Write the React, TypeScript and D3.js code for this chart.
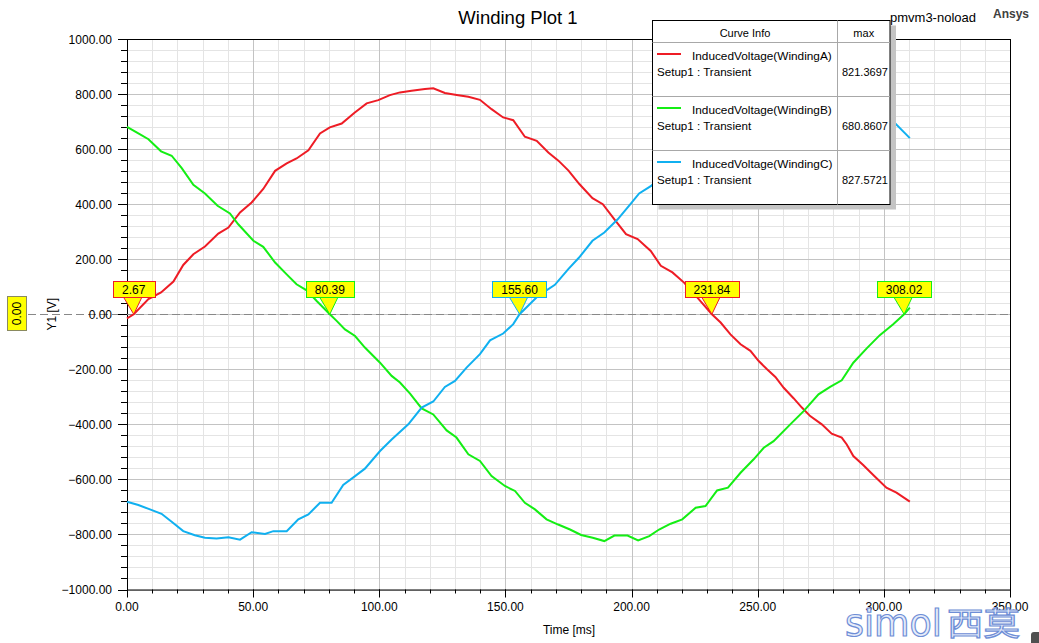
import React from "react";
import * as d3 from "d3";

// ---------- data ----------
const windingA: [number, number][] = [
  [0, -15], [2.67, 0], [8.5, 55], [13.5, 79], [18.4, 119], [22.3, 179], [26.3, 218], [30.9, 246],
  [36.2, 293], [40.2, 315], [44.8, 370], [49.4, 406], [54, 455], [58.7, 521], [63.3, 548], [67.2, 566],
  [71.9, 596], [76.5, 657], [80.4, 679], [85.1, 693], [90.3, 733], [95, 766], [99.6, 778], [104.2, 796],
  [108.2, 806], [112.8, 812], [118.1, 818], [121.4, 821], [126, 804], [131.3, 796], [135.3, 790],
  [139.9, 779], [144.5, 745], [149.1, 715], [153.1, 705], [157.7, 645], [162.4, 630], [167, 588],
  [171, 558], [175, 522], [179.3, 473], [184.5, 422], [188.6, 400], [193.2, 345], [197.8, 291],
  [202.4, 273], [207.6, 230], [211.6, 176], [216.2, 152], [220.8, 115], [226, 61], [231.84, 0],
  [235.3, -30], [239.2, -73], [243.2, -109], [247.1, -133], [250.4, -170], [253.7, -200], [257, -228],
  [260.3, -267], [264.2, -305], [267.5, -339], [270.8, -370], [275.4, -400], [279.3, -434], [283.3, -448],
  [285.3, -473], [287.9, -515], [291.8, -548], [295.8, -584], [301, -630], [305, -648], [310.3, -681],
];

const windingB: [number, number][] = [
  [0, 681], [4.5, 657], [8.5, 636], [13.5, 592], [17.7, 576], [21.7, 531], [26.3, 470], [30.9, 439],
  [35.9, 394], [40.8, 366], [44.1, 327], [50.1, 267], [54, 245], [58.7, 188], [63.3, 145], [67.2, 109],
  [71.2, 87], [75.2, 48], [80.39, 0], [83.1, -24], [86.4, -55], [90.4, -79], [94.3, -121], [100.3, -176],
  [104.9, -224], [108.2, -248], [112.2, -288], [116.8, -342], [121.4, -364], [126.7, -422], [130.6, -448],
  [135.3, -509], [139.9, -533], [144.5, -588], [149.8, -624], [153.8, -642], [157.7, -685], [161.7, -709],
  [166.3, -745], [170.9, -764], [175.6, -782], [180, -802], [184.6, -812], [189.2, -824], [193.2, -804],
  [198.4, -804], [202.6, -822], [207, -806], [210.9, -782], [215.5, -761], [220.1, -745], [225.4, -703],
  [229.3, -697], [233.9, -640], [238.2, -630], [243.2, -576], [248.4, -527], [252.4, -485], [256.3, -461],
  [262.9, -400], [268.2, -352], [274.1, -291], [278.7, -264], [283.3, -240], [287.9, -176], [293.2, -124],
  [298.4, -76], [303.7, -36], [308.02, 0], [310.3, 24],
];

const windingC: [number, number][] = [
  [0, -681], [4.5, -693], [9.1, -709], [13.7, -725], [17.7, -754], [22.3, -788], [26.9, -803], [30.9, -812],
  [35.5, -815], [40.2, -810], [44.8, -819], [49.4, -792], [54.7, -798], [58, -788], [63.3, -788],
  [67.9, -745], [71.9, -727], [76.5, -685], [81.1, -685], [85.7, -620], [90.4, -588], [94.3, -561],
  [100.3, -497], [104.9, -455], [111.5, -400], [116.8, -339], [121.4, -317], [126, -264], [130, -242],
  [134.6, -194], [139.9, -145], [143.9, -95], [149.1, -70], [153.1, -36], [155.6, 0], [163, 67],
  [169.6, 107], [175, 165], [179.2, 206], [184.5, 267], [189.2, 297], [194.5, 345], [199.7, 402],
  [203, 439], [207.9, 467], [215, 541], [225, 598], [235, 685], [245, 745], [255, 788], [265, 811],
  [273, 827], [285, 795], [295, 760], [302.4, 713], [310.3, 640],
];

const seriesNames = ["InducedVoltage(WindingA)", "InducedVoltage(WindingB)", "InducedVoltage(WindingC)"];
const seriesMax = ["821.3697", "680.8607", "827.5721"];
const seriesColors = ["#ee1c25", "#14ee14", "#10b0f0"];
const seriesData = [windingA, windingB, windingC];

const markerTimes = [2.67, 80.39, 155.6, 231.84, 308.02];
const markerSeries = [0, 1, 2, 0, 1];

const xMajorTicks = d3.range(0, 351, 50);
const xMinorTicks = d3.range(0, 351, 10);
const yMajorTicks = d3.range(-1000, 1001, 200);
const yMinorTicks = d3.range(-1000, 1001, 40);

const FONT = "Arial, 'Liberation Sans', sans-serif";

export default function App() {
  const W = 1039, H = 643;
  const x = d3.scaleLinear().domain([0, 350]).range([127, 1010]);
  const y = d3.scaleLinear().domain([-1000, 1000]).range([589.5, 39]);
  const fmt = d3.format(".2f");
  const line = d3.line<[number, number]>().x(d => x(d[0])).y(d => y(d[1]));
  const [x0, x1] = x.range();
  const [yb, yt] = y.range();
  const y0 = y(0);

  // legend geometry
  const L = { x: 652.5, y: 20.5, w: 237.5, h: 184, headH: 22, colX: 837.5, rowH: 54 };

  return (
    <svg width={W} height={H} style={{ position: "absolute", left: 0, top: 0, background: "#fff" }}
      fontFamily={FONT}>
      <rect x={0} y={0} width={W} height={H} fill="#fff" />
      {/* minor grid */}
      {xMinorTicks.map(t => (
        <line key={"xm" + t} x1={Math.round(x(t)) + 0.5} x2={Math.round(x(t)) + 0.5} y1={yt} y2={yb} stroke="#e4e4e4" />
      ))}
      {yMinorTicks.map(t => (
        <line key={"ym" + t} x1={x0} x2={x1} y1={Math.round(y(t)) + 0.5} y2={Math.round(y(t)) + 0.5} stroke="#e4e4e4" />
      ))}
      {/* major grid */}
      {xMajorTicks.map(t => (
        <line key={"xM" + t} x1={Math.round(x(t)) + 0.5} x2={Math.round(x(t)) + 0.5} y1={yt} y2={yb} stroke="#c3c3c3" />
      ))}
      {yMajorTicks.map(t => (
        <line key={"yM" + t} x1={x0} x2={x1} y1={Math.round(y(t)) + 0.5} y2={Math.round(y(t)) + 0.5} stroke="#c3c3c3" />
      ))}
      {/* frame */}
      <rect x={x0 + 0.5} y={yt + 0.5} width={x1 - x0} height={yb - yt} fill="none" stroke="#000" />
      {/* zero dashed line */}
      <line x1={28} x2={x1} y1={Math.round(y0) + 0.5} y2={Math.round(y0) + 0.5} stroke="#888" strokeDasharray="8,4" />
      {/* left ticks */}
      {yMinorTicks.map(t => (
        <line key={"ylt" + t} x1={x0 - 6} x2={x0} y1={Math.round(y(t)) + 0.5} y2={Math.round(y(t)) + 0.5} stroke="#000" />
      ))}
      {yMajorTicks.map(t => (
        <line key={"yLt" + t} x1={x0 - 9} x2={x0} y1={Math.round(y(t)) + 0.5} y2={Math.round(y(t)) + 0.5} stroke="#000" />
      ))}
      {yMajorTicks.map(t => (
        <text key={"yl" + t} x={112} y={y(t) + 4.5} textAnchor="end" fontSize={12} fill="#000">{fmt(t)}</text>
      ))}
      {/* bottom ticks */}
      {xMinorTicks.map(t => (
        <line key={"xlt" + t} x1={Math.round(x(t)) + 0.5} x2={Math.round(x(t)) + 0.5} y1={yb} y2={yb + 4} stroke="#000" />
      ))}
      {xMajorTicks.map(t => (
        <line key={"xLt" + t} x1={Math.round(x(t)) + 0.5} x2={Math.round(x(t)) + 0.5} y1={yb} y2={yb + 8} stroke="#000" />
      ))}
      {xMajorTicks.map(t => (
        <text key={"xl" + t} x={x(t)} y={611} textAnchor="middle" fontSize={12} fill="#000">{fmt(t)}</text>
      ))}
      {/* axis titles */}
      <text x={569} y={634} textAnchor="middle" fontSize={12}>Time [ms]</text>
      <text transform={`translate(56,${y0}) rotate(-90)`} textAnchor="middle" fontSize={12}>Y1 [V]</text>
      <text x={518} y={24} textAnchor="middle" fontSize={18.5}>Winding Plot 1</text>
      <text x={933} y={22} textAnchor="middle" fontSize={13}>pmvm3-noload</text>
      <text x={1011} y={18} textAnchor="middle" fontSize={12} fontWeight="bold" fill="#404040">Ansys</text>
      {/* y-value marker box */}
      <rect x={7.5} y={296.5} width={19} height={34} fill="#ffff00" stroke="#8a8a60" />
      <text transform={`translate(21,${313.5}) rotate(-90)`} textAnchor="middle" fontSize={12}>0.00</text>

      {/* curves */}
      {seriesData.map((d, i) => (
        <path key={"s" + i} d={line(d) || ""} fill="none" stroke={seriesColors[i]} strokeWidth={2} />
      ))}

      {/* markers */}
      {markerTimes.map((t, i) => {
        const cx = x(t);
        const label = fmt(t);
        const bw = label.length * 6.2 + 17;
        const c = seriesColors[markerSeries[i]];
        const top = 281.5, bh = 16;
        return (
          <g key={"m" + i}>
            <path d={`M${cx - 10},${top + bh} L${cx},${y0} L${cx + 8},${top + bh} Z`} fill="#ffff00" stroke="none" />
            <path d={`M${cx - 10},${top + bh} L${cx},${y0} L${cx + 8},${top + bh}`} fill="none" stroke={c} strokeWidth={1} />
            <rect x={Math.round(cx - bw / 2) + 0.5} y={top} width={Math.round(bw)} height={bh} fill="#ffff00" stroke={c} />
            <text x={cx} y={top + 12.5} textAnchor="middle" fontSize={12} fill="#000">{label}</text>
          </g>
        );
      })}

      {/* legend */}
      <rect x={L.x + 6} y={L.y + 5} width={L.w} height={L.h} fill="#c4c4c4" />
      <rect x={L.x} y={L.y} width={L.w} height={L.h} fill="#fff" stroke="#000" />
      <line x1={L.x} x2={L.x + L.w} y1={L.y + L.headH} y2={L.y + L.headH} stroke="#a8a8a8" />
      <line x1={L.colX} x2={L.colX} y1={L.y} y2={L.y + L.h} stroke="#a8a8a8" />
      <text x={(L.x + L.colX) / 2} y={L.y + 16} textAnchor="middle" fontSize={11}>Curve Info</text>
      <text x={(L.colX + L.x + L.w) / 2} y={L.y + 16} textAnchor="middle" fontSize={11}>max</text>
      {seriesNames.map((n, i) => {
        const ry = L.y + L.headH + i * L.rowH;
        return (
          <g key={"lg" + i}>
            {i > 0 && <line x1={L.x} x2={L.x + L.w} y1={ry} y2={ry} stroke="#a8a8a8" />}
            <line x1={657} x2={681} y1={ry + 11.5} y2={ry + 11.5} stroke={seriesColors[i]} strokeWidth={2} />
            <text x={692} y={ry + 17} fontSize={11.8}>{n}</text>
            <text x={657} y={ry + 33} fontSize={11.6}>Setup1 : Transient</text>
            <text x={842} y={ry + 33} fontSize={11}>{seriesMax[i]}</text>
          </g>
        );
      })}

      {/* watermark */}
      <text x={845} y={636} fontSize={38} textLength={97} lengthAdjust="spacingAndGlyphs"
        fill="#e6ecfa" stroke="#6e8ed6" strokeWidth={1.2} fontFamily="'DejaVu Sans', sans-serif">simol</text>
      <text x={947} y={635} fontSize={32} textLength={73} lengthAdjust="spacingAndGlyphs"
        fill="#e6ecfa" stroke="#6e8ed6" strokeWidth={1.2} fontFamily="'Noto Sans CJK SC', sans-serif">西莫</text>
      <rect x={1031} y={632} width={14} height={14} rx={3} fill="#505050" />
    </svg>
  );
}
